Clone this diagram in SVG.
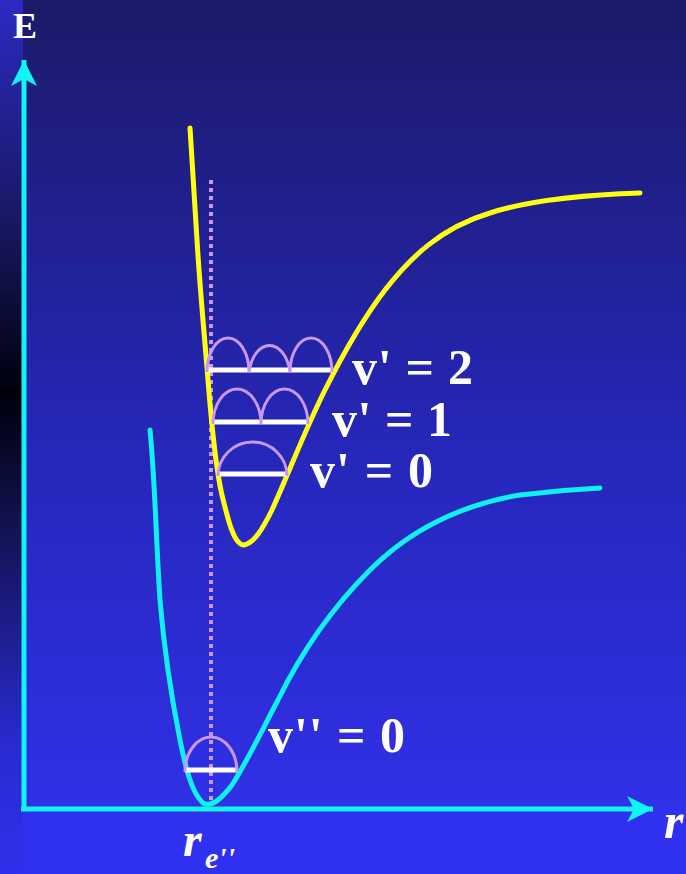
<svg xmlns="http://www.w3.org/2000/svg" width="686" height="874" viewBox="0 0 686 874">
<defs>
<linearGradient id="bg" x1="0" y1="0" x2="0" y2="1">
<stop offset="0" stop-color="#1b1a68"/>
<stop offset="0.5" stop-color="#2626b8"/>
<stop offset="1" stop-color="#3232f0"/>
</linearGradient>
<linearGradient id="strip" x1="0" y1="0" x2="0" y2="1">
<stop offset="0" stop-color="#2c2ac4"/>
<stop offset="0.25" stop-color="#181864"/>
<stop offset="0.45" stop-color="#00000c"/>
<stop offset="0.62" stop-color="#14145a"/>
<stop offset="0.85" stop-color="#2a2ad0"/>
<stop offset="1" stop-color="#3030ec"/>
</linearGradient>
<marker id="arrow" viewBox="0 0 30 30" refX="27" refY="15" markerWidth="30" markerHeight="30" markerUnits="userSpaceOnUse" orient="auto">
<path d="M27,15 L1,2 L8,15 L1,28 Z" fill="#10f4f4"/>
</marker>
<style>
.axis{stroke:#10f4f4;stroke-width:5;fill:none}
.bar{stroke:#ffffff;stroke-width:5;fill:none}
.arc{stroke:#c898f4;stroke-width:3;fill:none}
.lbl{font-family:"Liberation Serif","Times New Roman",serif;font-weight:bold;fill:#ffffff}
.pes{fill:none;stroke-width:5;stroke-linejoin:round;stroke-linecap:round}
</style>
</defs>
<rect width="686" height="874" fill="url(#bg)"/>
<rect x="0" y="809" width="686" height="65" fill="#3030f0"/>
<rect width="23" height="874" fill="url(#strip)"/>

<g id="connectors">
<line class="axis" x1="24" y1="811" x2="24" y2="60" marker-end="url(#arrow)"/>
<line class="axis" x1="21" y1="809" x2="653" y2="809" marker-end="url(#arrow)"/>
<line x1="211" y1="180" x2="211" y2="806" stroke="#c898f4" stroke-width="4" stroke-dasharray="4 4"/>
</g>

<g id="excited-curve">
<path class="pes" stroke="#ffff10" d="M190,128 L197,240 C200,290 204,330 208,380 C212,430 216,470 222,495 C228,520 234,545 244,545 C254,543 262,530 272,510 C290,470 305,430 325,390 C345,350 362,320 385,290 C410,258 440,228 490,213 C530,200 580,195 640,193"/>
</g>
<g id="ground-curve">
<path class="pes" stroke="#10f0f0" d="M150,430 C155,480 156,540 160,600 C165,660 172,700 180,740 C186,770 192,793 203,803 C212,808 222,798 232,785 C248,760 262,730 278,700 C300,655 330,610 370,570 C410,530 460,505 520,495 C560,490 580,489 600,488"/>
</g>

<g id="level-v2">
<line class="bar" x1="207" y1="370" x2="332" y2="370"/>
<path class="arc" d="M207,372 A21,34 0 0 1 249,372 A21,34 0 0 1 290,372 A21,34 0 0 1 332,372"/>
<text class="lbl" x="352" y="384" font-size="50" textLength="121" lengthAdjust="spacing">v' = 2</text>
</g>
<g id="level-v1">
<line class="bar" x1="213" y1="422" x2="308" y2="422"/>
<path class="arc" d="M213,424 A24,35 0 0 1 261,424 A23.5,35 0 0 1 308,424"/>
<text class="lbl" x="332" y="436" font-size="50" textLength="120" lengthAdjust="spacing">v' = 1</text>
</g>
<g id="level-v0">
<line class="bar" x1="218" y1="474" x2="287" y2="474"/>
<path class="arc" d="M218,476 A34.5,34 0 0 1 287,476"/>
<text class="lbl" x="310" y="487" font-size="50" textLength="123" lengthAdjust="spacing">v' = 0</text>
</g>
<g id="level-v0pp">
<line class="bar" x1="185" y1="770" x2="237" y2="770"/>
<path class="arc" d="M185,772 A26,35 0 0 1 237,772"/>
<text class="lbl" x="268" y="752" font-size="50" textLength="137" lengthAdjust="spacing">v'' = 0</text>
</g>

<g id="labels">
<text class="lbl" x="13" y="38" font-size="36">E</text>
<text class="lbl" x="664" y="838" font-size="50" font-style="italic">r</text>
<text class="lbl" x="183" y="856" font-size="48" font-style="italic">r</text>
<text class="lbl" x="205" y="868" font-size="30" font-style="italic">e''</text>
</g>
</svg>
